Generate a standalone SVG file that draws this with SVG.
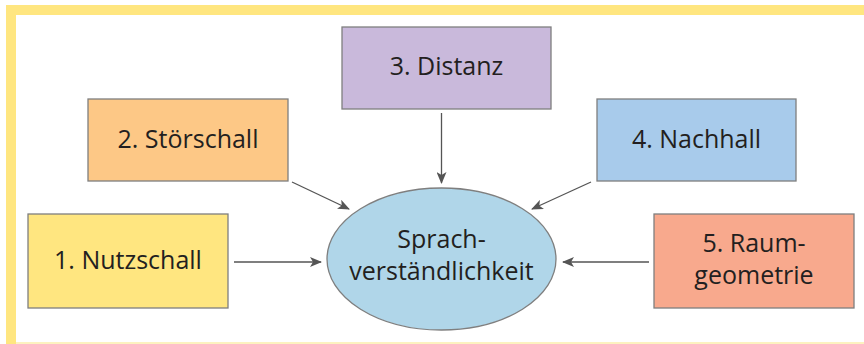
<svg xmlns="http://www.w3.org/2000/svg" width="864" height="344" viewBox="0 0 864 344">
<defs>
<style>
.box{stroke:#7f7f7f;stroke-width:1.3}
.t{font-family:"Open Sans","Noto Sans","DejaVu Sans",sans-serif;font-size:25px;fill:#231f20;text-anchor:middle}
.c{stroke:#555;stroke-width:1.3;fill:none;marker-end:url(#ah)}
</style>
<marker id="ah" viewBox="0 0 12 10" refX="11" refY="5" markerWidth="12" markerHeight="10" markerUnits="userSpaceOnUse" orient="auto">
<path d="M0,0 L12,5 L0,10 L3,5 Z" fill="#555"/>
</marker>
</defs>
<rect x="0" y="0" width="864" height="344" fill="#fff"/>
<g id="frame">
<path d="M11,344 L11,10 L864,10" fill="none" stroke="#ffe680" stroke-width="10"/>
<line x1="16" y1="343" x2="864" y2="343" stroke="#fdf2c0" stroke-width="2"/>
</g>
<g id="connectors">
<line class="c" x1="234" y1="262" x2="321" y2="262"/>
<line class="c" x1="292" y1="182" x2="349" y2="209"/>
<line class="c" x1="441.5" y1="113" x2="441.5" y2="183"/>
<line class="c" x1="591" y1="182" x2="532" y2="209"/>
<line class="c" x1="649" y1="262" x2="563" y2="262"/>
</g>
<g id="n1">
<rect class="box" x="28" y="214" width="200" height="94" fill="#ffe680"/>
<text class="t" x="128" y="269">1. Nutzschall</text>
</g>
<g id="n2">
<rect class="box" x="88" y="99" width="200" height="82" fill="#fdc886"/>
<text class="t" x="188" y="148">2. Störschall</text>
</g>
<g id="n3">
<rect class="box" x="342" y="27" width="209" height="82" fill="#c9b9db"/>
<text class="t" x="446.5" y="75">3. Distanz</text>
</g>
<g id="n4">
<rect class="box" x="597" y="99" width="199" height="82" fill="#a8cbeb"/>
<text class="t" x="696.5" y="148">4. Nachhall</text>
</g>
<g id="n5">
<rect class="box" x="654" y="214" width="200" height="94" fill="#f8a98d"/>
<text class="t" x="754" y="251.5">5. Raum-</text>
<text class="t" x="754" y="283.5">geometrie</text>
</g>
<g id="center">
<ellipse class="box" cx="441.5" cy="259" rx="114.5" ry="71" fill="#b0d6e9"/>
<text class="t" x="441.5" y="248">Sprach-</text>
<text class="t" x="441.5" y="280">verständlichkeit</text>
</g>
</svg>
